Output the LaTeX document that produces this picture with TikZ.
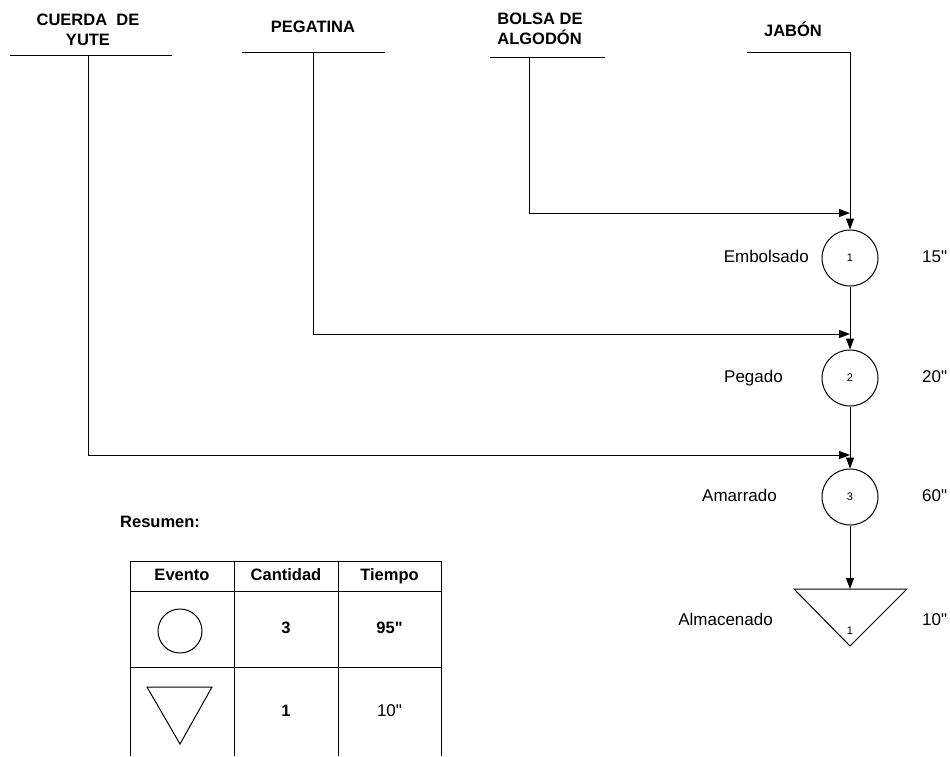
\documentclass[tikz,border=0pt]{standalone}
\usepackage{fontspec}
\setmainfont{Liberation Sans}
\usetikzlibrary{arrows.meta}

\newcommand{\seg}{\textquotedbl}

\tikzset{
  linea/.style={line width=1pt},
  flujo/.style={linea, -{Triangle[length=11pt,width=8pt]}},
  titulo/.style={font=\fontsize{16.5}{19.5}\selectfont\bfseries, align=center, inner sep=0pt},
  operacion/.style={draw, circle, linea, minimum size=56pt, inner sep=0pt, font=\fontsize{11}{11}\selectfont},
  etiqueta/.style={font=\fontsize{17}{17}\selectfont, inner sep=0pt, text height=12pt, text depth=3pt},
  celda/.style={etiqueta, font=\fontsize{16.5}{16.5}\selectfont\bfseries}
}

\begin{document}
\begin{tikzpicture}[x=1pt,y=1pt,yscale=-1,xscale=1]
\useasboundingbox (0,0) rectangle (950,756);

% Materiales de entrada
\node[titulo] (yute) at (88,30) {CUERDA\ \ DE\\YUTE};
\draw[linea] (10,55) -- (172,55);
\coordinate (yute0) at (88,55);

\node[titulo] (pegatina) at (313,27) {PEGATINA};
\draw[linea] (242,52) -- (385,52);
\coordinate (pegatina0) at (313,52);

\node[titulo, align=left] (bolsa) at (540,29) {BOLSA DE\\ALGODÓN};
\draw[linea] (490,57) -- (605,57);
\coordinate (bolsa0) at (529,57);

\node[titulo] (jabon) at (793,29) {JABÓN};
\draw[linea] (747,52) -- (850,52);
\coordinate (jabon0) at (850,52);

% Operaciones
\node[operacion] (op1) at (850,258) {1};
\node[operacion] (op2) at (850,378) {2};
\node[operacion] (op3) at (850,497) {3};

% Almacenado
\coordinate (alm) at (850,589);
\draw[linea] (794,589) -- (907,589) -- (850,646) -- cycle;
\node[font=\fontsize{11}{11}\selectfont] (alm1) at (850,631) {1};

% Entradas a la linea principal
\coordinate (in1) at (850,213);
\coordinate (in2) at (850,334);
\coordinate (in3) at (850,455);
\draw[linea] (jabon0) -- (in1);
\draw[flujo] (in1) -- (op1.north);
\draw[flujo] (bolsa0) |- (in1);
\draw[linea] (op1.south) -- (in2);
\draw[flujo] (in2) -- (op2.north);
\draw[flujo] (pegatina0) |- (in2);
\draw[linea] (op2.south) -- (in3);
\draw[flujo] (in3) -- (op3.north);
\draw[flujo] (yute0) |- (in3);
\draw[flujo] (op3.south) -- (alm);

% Nombres y tiempos
\node[etiqueta, anchor=east] (t1) at (809,258) {Embolsado};
\node[etiqueta, anchor=east] (t2) at (783,378) {Pegado};
\node[etiqueta, anchor=east] (t3) at (777,497) {Amarrado};
\node[etiqueta, anchor=east] (t4) at (773,621) {Almacenado};
\node[etiqueta, anchor=west] (s1) at (922,258) {15\seg};
\node[etiqueta, anchor=west] (s2) at (922,378) {20\seg};
\node[etiqueta, anchor=west] (s3) at (922,497) {60\seg};
\node[etiqueta, anchor=west] (s4) at (922,621) {10\seg};

% Resumen
\node[celda, anchor=west] (resumen) at (120,523) {Resumen:};
\draw[linea] (130,756) -- (130,561) -- (441,561) -- (441,756);
\draw[linea] (234,561) -- (234,756);
\draw[linea] (338,561) -- (338,756);
\draw[linea] (130,591) -- (441,591);
\draw[linea] (130,667) -- (441,667);
\node[celda] (h1) at (182,576) {Evento};
\node[celda] (h2) at (286,576) {Cantidad};
\node[celda] (h3) at (389.5,576) {Tiempo};
\draw[linea] (180,631) circle (22);
\node[celda] (c1) at (286,629) {3};
\node[celda] (c2) at (389.5,629) {95\seg};
\draw[linea] (147,687) -- (212,687) -- (180,744) -- cycle;
\node[celda] (c3) at (286,712) {1};
\node[etiqueta] (c4) at (389.5,712) {10\seg};
\end{tikzpicture}
\end{document}
